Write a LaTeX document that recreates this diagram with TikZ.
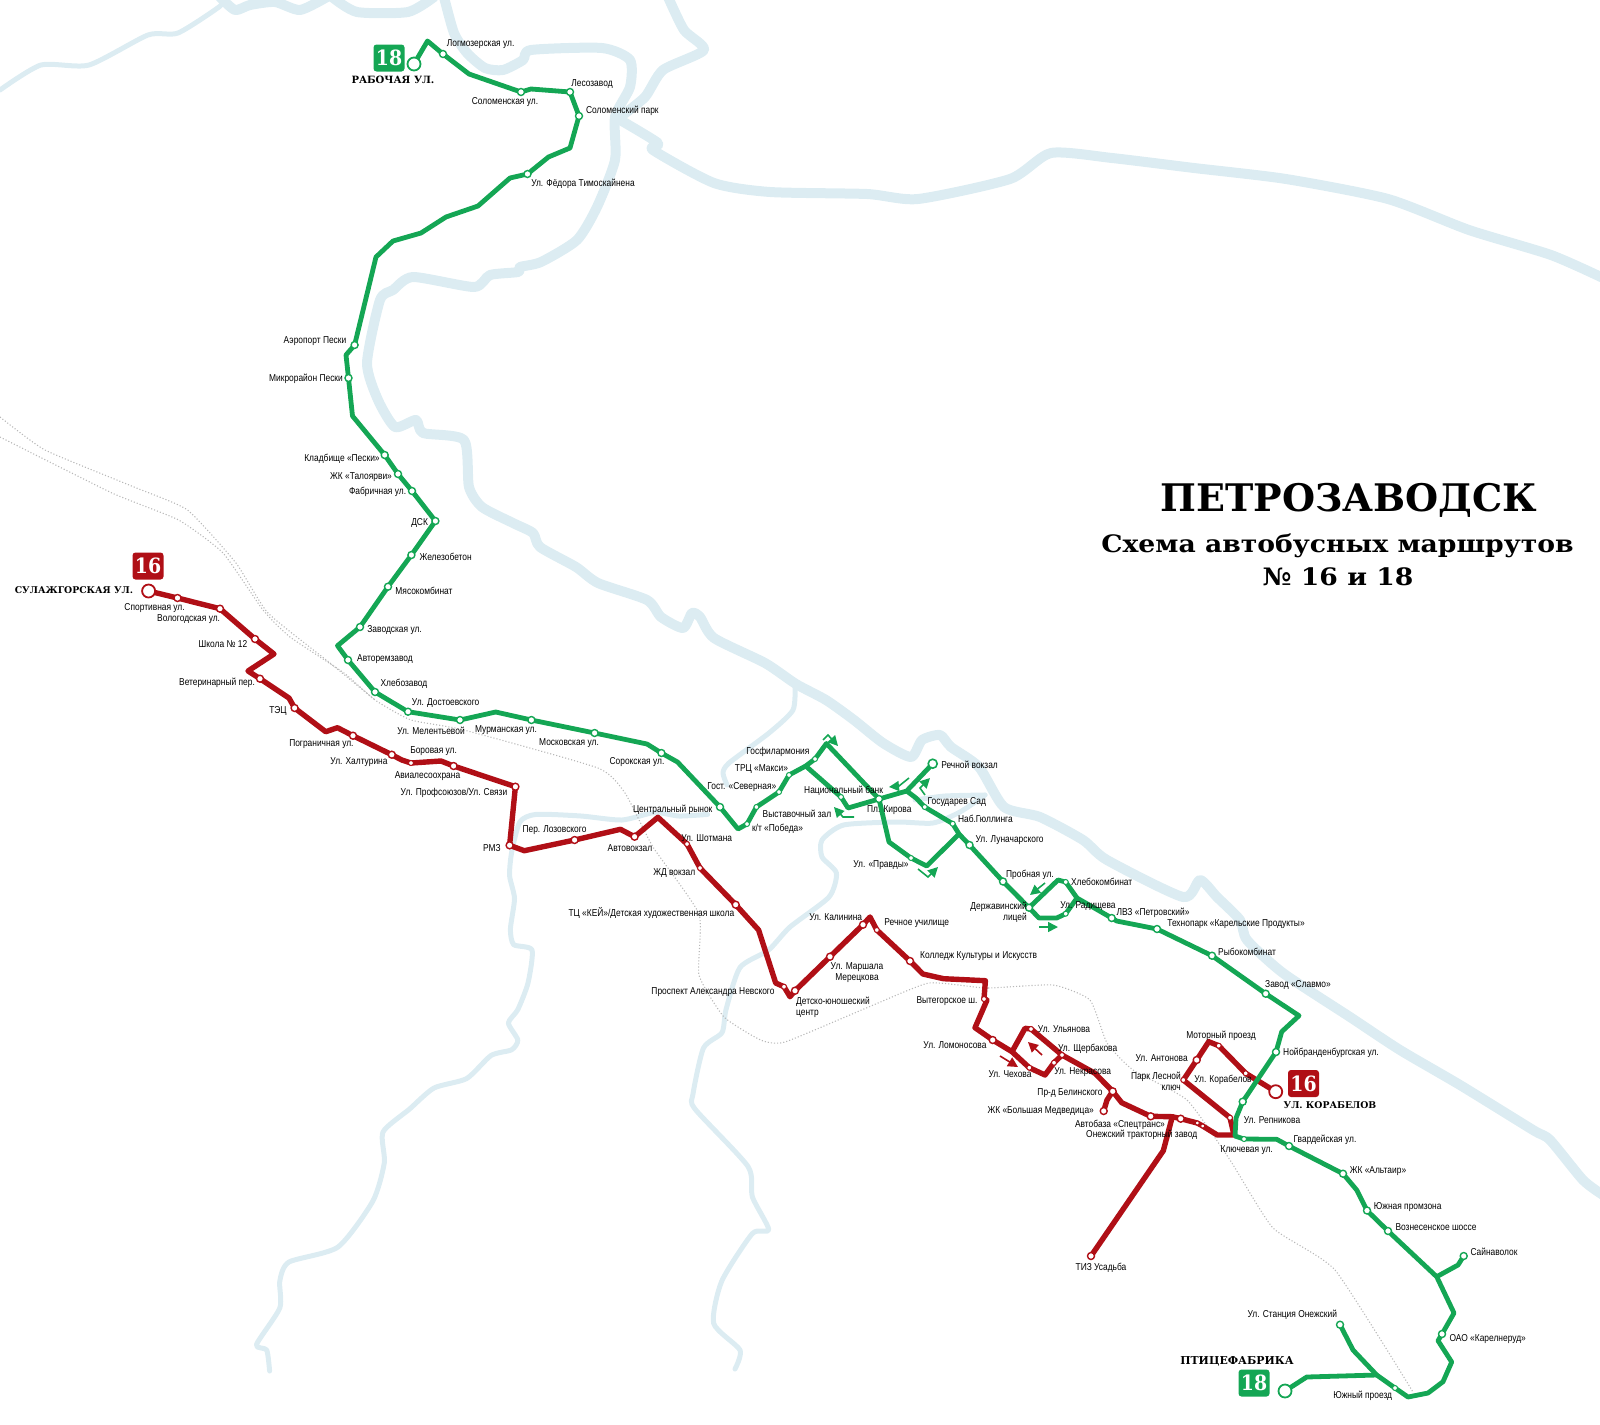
\documentclass[tikz,border=0pt]{standalone}
\usepackage{fontspec}
\setmainfont[FakeStretch=0.84]{Liberation Sans}
\newfontfamily\bkf{DejaVu Serif}
\newfontfamily\bkw[FakeStretch=1.11]{DejaVu Serif}
\newfontfamily\bkn[FakeStretch=0.9]{DejaVu Serif}
\usetikzlibrary{arrows.meta}
\pgfdeclarelayer{water}
\pgfdeclarelayer{routes}
\pgfsetlayers{water,routes,main}
\definecolor{gline}{HTML}{14A654}
\definecolor{rline}{HTML}{B00F16}
\definecolor{river}{HTML}{DCECF2}
\definecolor{rail}{HTML}{B8B8B8}
\tikzset{
  x=1pt,y=-1pt,
  gl/.style={draw=gline,line width=4.8pt,line join=round,line cap=round},
  rl/.style={draw=rline,line width=5.4pt,line join=round,line cap=round},
  gs/.style={circle,draw=gline,fill=white,line width=1.4pt,inner sep=0pt,minimum size=7pt},
  gm/.style={gs,line width=1pt,minimum size=5pt},
  gt/.style={gs,line width=1.8pt,minimum size=13pt},
  rs/.style={circle,draw=rline,fill=white,line width=1.4pt,inner sep=0pt,minimum size=7pt},
  rm/.style={rs,line width=1pt,minimum size=5pt},
  rt/.style={rs,line width=1.8pt,minimum size=13pt},
  lbl/.style={inner sep=0pt,font=\fontsize{10}{11}\selectfont,text=black},
  term/.style={inner sep=0pt,font=\bkf\bfseries\fontsize{10}{12}\selectfont},
  badge/.style={rounded corners=3pt,minimum width=31pt,minimum height=27pt,inner sep=0pt,text=white,font=\bkn\bfseries\fontsize{21}{23}\selectfont},
  wide/.style={draw=river,line width=10pt,line join=round,line cap=round},
  thin/.style={draw=river,line width=5pt,line join=round,line cap=round},
  railw/.style={draw=rail,line width=1.1pt,dotted},
  garr/.style={draw=gline,line width=1.6pt,-{Triangle[length=10pt,width=10pt]}},
  rarr/.style={draw=rline,line width=1.6pt,-{Triangle[length=10pt,width=10pt]}},
}
\newcounter{lbc}
\newcommand\lb[3]{\stepcounter{lbc}\node[lbl] (lab\thelbc) at (#1,#2) {#3};}
\newcommand\st[4]{\node[#1] (#2) at (#3,#4) {};}
\begin{document}
\begin{tikzpicture}
\useasboundingbox (0,0) rectangle (1600,1424);
% ---------- green stations
\st{gt}{rab}{414}{64}
\st{gs}{log}{443}{54}
\st{gs}{sol}{521}{92}
\st{gs}{les}{570}{92}
\st{gs}{spk}{579}{116}
\st{gs}{tim}{527.5}{174}
\st{gs}{aer}{354.6}{345}
\st{gs}{mik}{348.5}{378}
\st{gs}{kla}{384.7}{455}
\st{gs}{tal}{398}{474}
\st{gs}{fab}{412}{491}
\st{gs}{dsk}{435.4}{521}
\st{gs}{zhe}{411.4}{555}
\st{gs}{mya}{388}{586.7}
\st{gs}{zav}{360}{627}
\st{gs}{avt}{348}{660}
\st{gs}{khl}{375}{692}
\st{gs}{dos}{408}{711.7}
\st{gs}{mel}{460}{720}
\st{gs}{mur}{531.4}{720}
\st{gs}{mos}{594.6}{733}
\st{gs}{sor}{661.4}{753}
\st{gs}{cen}{720}{807}
\coordinate (low) at (738,829);
\st{gm}{pob}{747}{824}
\st{gm}{vys}{756.4}{807}
\st{gm}{sev}{779}{792}
\st{gm}{mak}{789}{775}
\coordinate (jn) at (805.7,766);
\st{gm}{fil}{815}{759}
\coordinate (top) at (826.4,743.5);
\st{gm}{nat}{841}{797}
\st{gs}{kir}{879}{799}
\coordinate (jr) at (906.7,791);
\st{gt,minimum size=9pt,line width=1.6pt}{rec}{932.7}{763.7}
\st{gm}{gos}{924.7}{807}
\st{gm}{nab}{952.7}{823.7}
\coordinate (jl) at (959,834);
\st{gs}{lun}{969.5}{845}
\st{gm}{pra}{911}{858}
\st{gs}{prb}{1003}{881.5}
\st{gs}{der}{1029}{907.7}
\coordinate (kt) at (1058,880);
\st{gm}{khb}{1065.7}{882}
\st{gm}{rad}{1065.7}{913.7}
\coordinate (kj) at (1077,898);
\st{gs}{lvz}{1111.7}{918}
\st{gs}{tec}{1157}{929}
\st{gs}{ryb}{1212}{955.7}
\st{gs}{sla}{1265.7}{993.7}
\st{gs}{noy}{1276}{1052}
\st{gs}{rpg}{1242.7}{1101.7}
\coordinate (bot) at (1235,1136);
\st{gm}{klu}{1244}{1139}
\st{gs}{gva}{1289}{1146}
\st{gs}{alt}{1343}{1173.7}
\st{gs}{yuz}{1367}{1210.5}
\st{gs}{voz}{1388}{1231}
\coordinate (sj) at (1436.7,1276.7);
\st{gs}{say}{1463.7}{1256}
\st{gs}{oao}{1442}{1334}
\st{gm}{yup}{1395}{1388}
\st{gs}{sta}{1340}{1324.7}
\coordinate (pj) at (1376.7,1375);
\st{gt}{pti}{1285}{1391}
% ---------- red stations
\st{rt}{sul}{148.6}{591}
\st{rs}{spo}{177.5}{598}
\st{rs}{vol}{220}{608.7}
\st{rs}{shk}{255}{639}
\st{rs}{vet}{260}{678.7}
\st{rs}{tes}{294.6}{708}
\st{rs}{pog}{353}{735.7}
\st{rs}{kha}{391.8}{754.7}
\st{rm}{bor}{411}{763}
\st{rs}{avi}{453.6}{766}
\st{rs}{prf}{515.4}{786.7}
\st{rs}{rmz}{509.6}{845.3}
\st{rs}{loz}{574.6}{840}
\st{rs}{avv}{634.6}{836.7}
\coordinate (cr) at (657.9,817.3);
\st{rm}{sho}{687}{844}
\st{rm}{zhd}{700}{868}
\st{rs}{key}{735.7}{904.7}
\st{rm}{nev}{784}{986.7}
\st{rs}{dyu}{795}{990.7}
\st{rs}{mer}{830}{956.7}
\st{rs}{kal}{863}{924.7}
\st{rm}{rcu}{876.8}{930}
\st{rs}{kol}{910}{961}
\st{rm}{vyt}{984}{999}
\st{rs}{lom}{992.7}{1040}
\coordinate (rj) at (1012,1051.7);
\coordinate (rt) at (1025,1028.3);
\st{rm}{uly}{1031}{1029}
\st{rm}{shc}{1062}{1055}
\st{rm}{che}{1029.3}{1067.7}
\coordinate (rb) at (1045,1075);
\st{rm}{nek}{1054}{1062.7}
\st{rs}{bel}{1112.7}{1091.3}
\st{rs}{med}{1103.7}{1111}
\st{rs}{avb}{1150.7}{1116.3}
\coordinate (tj) at (1172.3,1116.7);
\st{rs}{tra}{1180.7}{1118.7}
\st{rm,minimum size=4pt}{sa}{1197.3}{1123}
\st{rm,minimum size=4pt}{sb}{1202.7}{1126}
\st{rm}{rpr}{1230}{1117.7}
\st{rm}{les2}{1183.3}{1080}
\st{rs}{ant}{1196.7}{1060}
\st{rm}{mot}{1218.7}{1045.7}
\st{rm}{kor}{1245.7}{1073.3}
\st{rt}{ter}{1275.7}{1091.7}
\st{rs}{tiz}{1091}{1256}
% ---------- water
\begin{pgfonlayer}{water}
\draw[thin] plot[smooth,tension=0.4] coordinates {(0,90)(41,65)(89,65)(148,35)(178,33)(219,7)(227,-3)};
\draw[wide] plot[smooth,tension=0.4] coordinates {(220,-3)(235,10)(250,5)(275,2)(300,10)(327,-3)};
\draw[wide] plot[smooth,tension=0.4] coordinates {(332,-3)(357,12)(408,12)(434,-3)};
\draw[wide] plot[smooth,tension=0.4] coordinates {(444,-3)(454,33)(467,53)(485,68)(503,70)(523,60)(531,50)(602,48)(630,60)(630,87)(615,117)(615,160)(597,207)(577,240)(541,262)(520,267)(518,272)(490,275)(474,287)(413,277)(393,290)(380,300)(367,363)(378,400)(395,427)(416,420)(423,433)(464,440)(469,487)(482,507)(513,523)(533,533)(540,547)(576,567)(598,583)(647,600)(661,617)(683,628)(692,613)(700,617)(714,638)(765,663)(796,684)(826,700)(854,720)(883,743)(911,757)(922,740)(940,735)(951,747)(979,767)(1004,807)(1040,817)(1083,840)(1107,860)(1183,897)(1200,880)(1217,897)(1240,920)(1247,940)(1283,973)(1350,1017)(1400,1050)(1460,1085)(1533,1130)(1550,1140)(1583,1180)(1603,1195)};
\draw[wide] plot[smooth,tension=0.4] coordinates {(668,-3)(684,30)(704,50)(663,70)(645,97)(620,117)};
\draw[wide] plot[smooth,tension=0.4] coordinates {(615,117)(658,143)(653,150)(714,183)(770,192)(867,194)(918,199)(1010,179)(1051,153)(1112,158)(1194,168)(1286,179)(1388,199)(1469,230)(1551,255)(1603,278)};
\draw[thin] plot[smooth,tension=0.4] coordinates {(707.6,814.4)(679,816)(654.5,812.5)(621.8,820)(581,816)(536,814.4)(519.8,822)(511.6,852.7)(509.6,875.7)(514.5,898.6)(510.4,929)(513.7,944.6)(532,950)(528,983)(517.8,1009.6)(508.4,1023)(517.8,1040)(511.6,1049.8)(491,1055.5)(466.7,1078.5)(434,1088)(409.6,1109)(383,1132)(384.3,1162.7)(372.9,1201)(338,1247)(289,1262)(279.8,1281)(279.8,1308)(256.5,1344.5)(266.7,1350)(269.6,1371)};
\draw[thin] plot[smooth,tension=0.4] coordinates {(795,684)(793,710)(769,733)(729,763)(723,773)(727,785)};
\draw[thin] plot[smooth,tension=0.4] coordinates {(985,795)(945,796)(915,800)};
\draw[thin] plot[smooth,tension=0.4] coordinates {(985,795)(960,812)(933,823)(897,822)(843.6,825)(822,840)(822,857)(836.4,873)(829,897)(790,927)(768.6,950)(740,967.5)(726,1009.6)(722,1032.6)(703.5,1048)(693,1094)(695,1109)(748,1166.5)(752.4,1197)(768.8,1229.7)(752.4,1233.5)(721.8,1281)(713.7,1323.4)(740,1350)(735,1369)};
\draw[railw] plot[smooth,tension=0.3] coordinates {(0,417)(45,450)(134,487)(187.5,510)(236,563)(268,613)(330,663)(375,700)};
\draw[railw] plot[smooth,tension=0.3] coordinates {(0,437)(112,493)(178.6,520)(223,553)(263,610)(290,637)(344,673)(375,700)(411,720)(464,730)(598,768)(625,793)(653,847)(699,914)(699,975)(724,1017)(760.6,1040)(785,1042)(871,1006)(929,983)(986,988)(1053,985)(1090,1000)(1107,1043)(1133,1070)(1187,1100)(1230,1160)(1273,1228)(1335,1270)(1413,1392)};
\end{pgfonlayer}
% ---------- routes
\begin{pgfonlayer}{routes}
\draw[rl] (sul.center) -- (spo.center) -- (vol.center) -- (shk.center) -- (274,654) -- (248,671) -- (vet.center) -- (289,698) -- (tes.center) -- (325.7,731.7) -- (337.5,727.7) -- (pog.center) -- (kha.center) -- (401.8,760) -- (bor.center) -- (441,761) -- (avi.center) -- (prf.center) -- (rmz.center) -- (524.3,850.7) -- (loz.center) -- (620.4,829.3) -- (avv.center) -- (cr) -- (sho.center) -- (zhd.center) -- (key.center) -- (758.6,930) -- (775.7,983) -- (nev.center) -- (790,996.7) -- (dyu.center) -- (mer.center) -- (kal.center) -- (870,917) -- (rcu.center) -- (kol.center) -- (922.9,974) -- (943.6,978.7) -- (985.4,980.7) -- (vyt.center) -- (987,1000) -- (975,1027.7) -- (lom.center) -- (rj) -- (rt) -- (uly.center) -- (shc.center);
\draw[rl] (rj) -- (che.center) -- (rb) -- (nek.center) -- (shc.center) -- (1095,1073.3) -- (bel.center) -- (1121.7,1102.7) -- (avb.center) -- (tj) -- (tra.center) -- (sa.center) -- (sb.center) -- (1217.3,1135) -- (1234,1135) -- (rpr.center) -- (les2.center) -- (ant.center) -- (1208.7,1041.7) -- (mot.center) -- (kor.center) -- (ter.center);
\draw[rl] (bel.center) -- (1107,1100) -- (med.center);
\draw[rl] (tj) -- (1163.3,1150.7) -- (tiz.center);
\draw[gl] (rab.center) -- (427.5,41) -- (log.center) -- (469,74) -- (sol.center) -- (531,89) -- (les.center) -- (spk.center) -- (570,148) -- (548.5,157) -- (tim.center) -- (510,178) -- (478,206) -- (446,217) -- (421,233) -- (393,241) -- (376,257) -- (aer.center) -- (346,355) -- (mik.center) -- (352.5,416) -- (kla.center) -- (tal.center) -- (fab.center) -- (dsk.center) -- (zhe.center) -- (mya.center) -- (zav.center) -- (337.5,645.7) -- (avt.center) -- (khl.center) -- (dos.center) -- (mel.center) -- (495.7,712) -- (mur.center) -- (mos.center) -- (647,744) -- (sor.center) -- (677.5,762) -- (cen.center) -- (low) -- (pob.center) -- (vys.center) -- (sev.center) -- (mak.center) -- (jn) -- (fil.center) -- (top) -- (kir.center) -- (889,842) -- (pra.center) -- (926.7,866) -- (jl);
\draw[gl] (jn) -- (nat.center) -- (848,808) -- (kir.center) -- (jr) -- (rec.center);
\draw[gl] (jr) -- (916,798) -- (gos.center) -- (nab.center) -- (jl) -- (lun.center) -- (prb.center) -- (der.center) -- (kt) -- (khb.center) -- (kj) -- (lvz.center) -- (1116.7,921) -- (tec.center) -- (ryb.center) -- (sla.center) -- (1299,1015.7) -- (1281.7,1031.7) -- (noy.center) -- (rpg.center) -- (1236,1118) -- (bot) -- (klu.center) -- (1276.7,1139.3) -- (gva.center) -- (alt.center) -- (1356.7,1190) -- (yuz.center) -- (voz.center) -- (sj) -- (1454,1313) -- (oao.center) -- (1438,1340.7) -- (1451.7,1362) -- (1443,1381.7) -- (1428,1393) -- (1408,1397) -- (yup.center) -- (1376.7,1375) -- (1353,1350) -- (sta.center);
\draw[gl] (der.center) -- (1039,918) -- (1056.7,918) -- (rad.center) -- (kj);
\draw[gl] (sj) -- (1458,1265) -- (say.center);
\draw[gl] (pj) -- (1306.7,1377) -- (pti.center);
% direction arrows
\draw[garr] (823,740) -- (828,735) -- (838,746);
\draw[garr] (854,817) -- (843,817) -- (834,807);
\draw[garr] (909,778) -- (899,786) -- (889,787);
\draw[garr] (925,795) -- (920,788) -- (930,778);
\draw[garr] (918,869) -- (928,877) -- (938,867);
\draw[garr] (1045,883) -- (1030,895);
\draw[garr] (1039,927) -- (1058,927);
\draw[rarr] (1000,1056) -- (1018,1067);
\draw[rarr] (1042,1055) -- (1028,1042);
\end{pgfonlayer}
% ---------- badges and terminals
\node[badge,fill=gline] (b18a) at (389,58) {18};
\node[badge,fill=rline] (b16a) at (148,566) {16};
\node[badge,fill=rline] (b16b) at (1303.5,1083.5) {16};
\node[badge,fill=gline] (b18b) at (1254,1383) {18};
\node[term] (trab) at (393,80) {РАБОЧАЯ УЛ.};
\node[term,font=\bkf\bfseries\fontsize{9.3}{11}\selectfont] (tsul) at (74,590) {СУЛАЖГОРСКАЯ УЛ.};
\node[term,font=\bkf\bfseries\fontsize{9.3}{11}\selectfont] (tkor) at (1330,1105) {УЛ. КОРАБЕЛОВ};
\node[term,font=\bkf\bfseries\fontsize{10.9}{12}\selectfont] (tpti) at (1237,1361) {ПТИЦЕФАБРИКА};
% ---------- title
\node[inner sep=0pt,font=\bkf\bfseries\fontsize{38}{42}\selectfont] (ttl) at (1349,500) {ПЕТРОЗАВОДСК};
\node[inner sep=0pt,font=\bkw\bfseries\fontsize{24}{26}\selectfont] (sub1) at (1337.5,546) {Схема автобусных маршрутов};
\node[inner sep=0pt,font=\bkw\bfseries\fontsize{24}{26}\selectfont] (sub2) at (1338,577) {№ 16 и 18};
% ---------- labels
\lb{480.6}{44}{Логмозерская ул.}
\lb{505}{102}{Соломенская ул.}
\lb{592}{84}{Лесозавод}
\lb{622.4}{111}{Соломенский парк}
\lb{583}{183.7}{Ул. Фёдора Тимоскайнена}
\lb{315}{341}{Аэропорт Пески}
\lb{306}{379}{Микрорайон Пески}
\lb{342}{459}{Кладбище «Пески»}
\lb{361}{477}{ЖК «Талоярви»}
\lb{377.6}{491.7}{Фабричная ул.}
\lb{419.6}{523}{ДСК}
\lb{445.7}{557}{Железобетон}
\lb{424}{591}{Мясокомбинат}
\lb{394.6}{630}{Заводская ул.}
\lb{385}{659}{Авторемзавод}
\lb{404}{684}{Хлебозавод}
\lb{445.7}{702.7}{Ул. Достоевского}
\lb{431}{731}{Ул. Мелентьевой}
\lb{506}{730}{Мурманская ул.}
\lb{569}{743}{Московская ул.}
\lb{637}{762.5}{Сорокская ул.}
\lb{154.6}{608}{Спортивная ул.}
\lb{188.6}{619}{Вологодская ул.}
\lb{223}{644}{Школа № 12}
\lb{217}{683}{Ветеринарный пер.}
\lb{278}{711}{ТЭЦ}
\lb{321.4}{744}{Пограничная ул.}
\lb{359}{762}{Ул. Халтурина}
\lb{433.6}{751}{Боровая ул.}
\lb{427.5}{776}{Авиалесоохрана}
\lb{454}{792.7}{Ул. Профсоюзов/Ул. Связи}
\lb{491.8}{847.7}{РМЗ}
\lb{554.5}{830.5}{Пер. Лозовского}
\lb{630}{848}{Автовокзал}
\lb{672.7}{810}{Центральный рынок}
\lb{706.7}{837.7}{Ул. Шотмана}
\lb{674.3}{872.7}{ЖД вокзал}
\lb{651.4}{913}{ТЦ «КЕЙ»/Детская художественная школа}
\lb{713}{992}{Проспект Александра Невского}
\node[lbl,anchor=west,align=left] (ldyu) at (796,1007) {Детско-юношеский\\центр};
\node[lbl,align=center] (lmer) at (857,972.5) {Ул. Маршала\\Мерецкова};
\lb{835.7}{916.7}{Ул. Калинина}
\lb{916.8}{923.3}{Речное училище}
\lb{978.6}{955.7}{Колледж Культуры и Искусств}
\lb{947}{1000.7}{Вытегорское ш.}
\lb{955}{1045.3}{Ул. Ломоносова}
\lb{1064}{1029}{Ул. Ульянова}
\lb{1087.7}{1049.3}{Ул. Щербакова}
\lb{1082.7}{1071.7}{Ул. Некрасова}
\lb{1010}{1074.3}{Ул. Чехова}
\lb{1070}{1093.3}{Пр-д Белинского}
\lb{1040.7}{1110.7}{ЖК «Большая Медведица»}
\lb{1120}{1125.3}{Автобаза «Спецтранс»}
\lb{1141.7}{1135}{Онежский тракторный завод}
\lb{777.9}{752.3}{Госфилармония}
\lb{761.4}{769.3}{ТРЦ «Макси»}
\lb{741.8}{787.3}{Гост. «Северная»}
\lb{797}{814.3}{Выставочный зал}
\lb{777.5}{828.7}{к/т «Победа»}
\lb{843.6}{790.3}{Национальный банк}
\lb{969.6}{765.3}{Речной вокзал}
\lb{889.3}{810}{Пл. Кирова}
\lb{956.8}{801.7}{Государев Сад}
\lb{985.4}{818.7}{Наб.Гюллинга}
\lb{1009.6}{840}{Ул. Луначарского}
\lb{881}{864.7}{Ул. «Правды»}
\lb{1030}{874.7}{Пробная ул.}
\lb{1101.7}{881.7}{Хлебокомбинат}
\lb{1088}{906}{Ул. Радищева}
\lb{1153}{912.7}{ЛВЗ «Петровский»}
\lb{1236}{924.3}{Технопарк «Карельские Продукты»}
\lb{1247}{951.7}{Рыбокомбинат}
\lb{1298}{985}{Завод «Славмо»}
\node[lbl,anchor=east,align=right] (lder) at (1027,912) {Державинский\\лицей};
\lb{1221}{1036}{Моторный проезд}
\lb{1161.7}{1058.3}{Ул. Антонова}
\node[lbl,anchor=east,align=right] (lles) at (1181,1081.5) {Парк Лесной\\ключ};
\lb{1223}{1080}{Ул. Корабелов}
\lb{1331}{1053.3}{Нойбранденбургская ул.}
\lb{1272}{1120}{Ул. Репникова}
\lb{1325}{1140}{Гвардейская ул.}
\lb{1246.7}{1150}{Ключевая ул.}
\lb{1101}{1268.3}{ТИЗ Усадьба}
\lb{1378}{1170.7}{ЖК «Альтаир»}
\lb{1407.7}{1207.3}{Южная промзона}
\lb{1436}{1227.3}{Вознесенское шоссе}
\lb{1494}{1252.3}{Сайнаволок}
\lb{1487.7}{1338.7}{ОАО «Карелнеруд»}
\lb{1292.3}{1314.3}{Ул.  Станция Онежский}
\lb{1362.7}{1395.7}{Южный проезд}
\end{tikzpicture}
\end{document}
